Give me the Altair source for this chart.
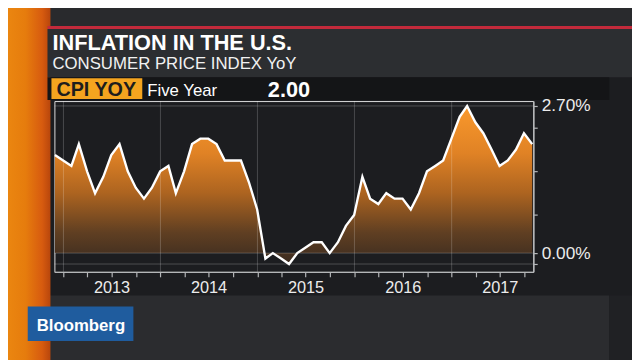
import altair as alt
import pandas as pd

# ---------------- data ----------------
first_month = "2012-11-01"
cpi_yoy = [
    1.8, 1.7,                                                      # 2012 Nov-Dec
    1.6, 2.0, 1.5, 1.1, 1.4, 1.8, 2.0, 1.5, 1.2, 1.0, 1.2, 1.5,    # 2013
    1.6, 1.1, 1.5, 2.0, 2.1, 2.1, 2.0, 1.7, 1.7, 1.7, 1.3, 0.8,    # 2014
    -0.1, 0.0, -0.1, -0.2, 0.0, 0.1, 0.2, 0.2, 0.0, 0.2, 0.5, 0.7, # 2015
    1.4, 1.0, 0.9, 1.1, 1.0, 1.0, 0.8, 1.1, 1.5, 1.6, 1.7, 2.1,    # 2016
    2.5, 2.7, 2.4, 2.2, 1.9, 1.6, 1.7, 1.9, 2.2, 2.0,              # 2017 Jan-Oct
]
year_starts = ["2013-01-01", "2014-01-01", "2015-01-01", "2016-01-01", "2017-01-01"]
h_grid = [2.7, 0.0, -0.2]
right_ticks = [2.7, 2.3, 1.5, 0.7, 0.0, -0.2]
tick_years = [2013, 2014, 2015, 2016, 2017]
tick_months = [1, 4, 7, 10]

title_text = "INFLATION IN THE U.S."
subtitle_text = "CONSUMER PRICE INDEX YoY"
ticker_text = "CPI YOY"
period_text = "Five Year"
last_value_text = "2.00"
brand_text = "Bloomberg"

# ---------------- tables ----------------
months = pd.date_range(first_month, periods=len(cpi_yoy), freq="MS")
dates = (months + pd.offsets.MonthEnd(0)).strftime("%Y-%m-%d")
df = pd.DataFrame({"date": list(dates), "cpi": cpi_yoy})
df_years = pd.DataFrame({"date": year_starts})
df_h = pd.DataFrame({"cpi": h_grid})
dummy = pd.DataFrame({"k": [0]})

FONT = "Liberation Sans"
W, H = 485, 173

quarter_ticks = [alt.DateTime(year=y, month=m, date=1, utc=True)
                 for y in tick_years for m in tick_months]

x_scale = alt.Scale(type="utc",
                    domain=[alt.DateTime(year=2012, month=11, date=28, utc=True),
                            alt.DateTime(year=2017, month=11, date=4, utc=True)],
                    nice=False)
y_scale = alt.Scale(domain=[-0.344, 2.79], nice=False, zero=False)

x_axis = alt.Axis(values=quarter_ticks,
                  labelExpr="utcmonth(datum.value) == 6 ? '' + utcyear(datum.value) : ''",
                  tickSize=5, tickColor="#b4b6b8", tickWidth=1.2,
                  domainColor="#b4b6b8", domainWidth=1.5,
                  labelColor="#ececec", labelFontSize=16.5, labelFont=FONT,
                  labelPadding=3, labelOverlap=False, labelFlush=False,
                  grid=False, title=None, zindex=1)
y_axis = alt.Axis(orient="right", values=right_ticks,
                  labelExpr="datum.value == 2.7 ? '2.70%' : (datum.value == 0 ? '0.00%' : '')",
                  tickSize=4, tickColor="#b4b6b8", tickWidth=1.2,
                  domainColor="#b4b6b8", domainWidth=1.5,
                  labelColor="#ececec", labelFontSize=17.5, labelFont=FONT,
                  labelPadding=4, labelOverlap=False, labelFlush=False,
                  labelBaseline="middle",
                  grid=False, title=None, zindex=1)

X = alt.X("date:T", scale=x_scale, axis=x_axis)
Y = alt.Y("cpi:Q", scale=y_scale, axis=y_axis)


def box(x, x2, y, y2, color):
    return alt.Chart(dummy).mark_rect(color=color).encode(
        x=alt.value(x), x2=alt.value(x2), y=alt.value(y), y2=alt.value(y2))


def label(text, x, y, size, color="#ffffff", weight="normal", align="left"):
    return alt.Chart(dummy).mark_text(
        text=text, align=align, baseline="alphabetic", font=FONT,
        fontSize=size, fontWeight=weight, color=color).encode(
        x=alt.value(x), y=alt.value(y))


orange_grad = alt.Gradient(
    gradient="linear", x1=0, y1=0, x2=1, y2=0,
    stops=[alt.GradientStop(color="#ee8d12", offset=0),
           alt.GradientStop(color="#e67c0d", offset=0.55),
           alt.GradientStop(color="#d75b0f", offset=0.85),
           alt.GradientStop(color="#b8460c", offset=1)])

area_grad = alt.Gradient(
    gradient="linear", x1=1, y1=0, x2=1, y2=1,
    stops=[alt.GradientStop(color="#fa992c", offset=0),
           alt.GradientStop(color="#e08225", offset=0.3),
           alt.GradientStop(color="#ad6420", offset=0.55),
           alt.GradientStop(color="#603f22", offset=0.8),
           alt.GradientStop(color="#3a2b20", offset=1)])

# decorations (coordinates relative to plot origin at page (55,100))
top_band = box(-60, 600, -110, -75, "#292a2d")
bottom_band = box(-60, 562, 197, 270, "#2b2c2f")
bottom_right = box(562, 600, 197, 270, "#202124")
strip = box(-60, -4, -110, 270, orange_grad)
red_line = box(-7, 600, -76, -73, "#c32a3b")
header = box(-7, 600, -73, -24, "#2c2e31")
cpi_row = box(-7, 562, -24, -1, "#141517")
ticker_box = box(-3, 89, -23, -2, "#f4a41f")
brand_box = box(-27, 80, 208, 243, "#1f5c9e")

t_title = label(title_text, -2, -52, 22, weight="bold")
t_sub = label(subtitle_text, -2, -32, 17, color="#f2f2f2")
t_ticker = label(ticker_text, 2, -5, 20, color="#1d1d1d", weight="bold")
t_period = label(period_text, 94, -5.5, 17)
t_value = label(last_value_text, 259, -4, 22, weight="bold", align="right")
t_brand = label(brand_text, -18, 233, 17, weight="bold")

# data layers
area = alt.Chart(df).mark_area(color=area_grad).encode(x=X, y=Y, y2=alt.value(H))
vgrid = alt.Chart(df_years).mark_rule(color="#ffffff", opacity=0.2, strokeWidth=1).encode(x=X)
hgrid = alt.Chart(df_h).mark_rule(color="#ffffff", opacity=0.22, strokeWidth=1).encode(y=Y)
line = alt.Chart(df).mark_line(color="#ffffff", strokeWidth=2.4).encode(x=X, y=Y)

chart = alt.layer(
    top_band, bottom_band, bottom_right, strip, red_line, header, cpi_row,
    ticker_box, brand_box,
    t_title, t_sub, t_ticker, t_period, t_value, t_brand,
    area, vgrid, hgrid, line,
).properties(
    width=W, height=H,
    padding={"left": 47, "top": 92, "right": 100, "bottom": 87},
    autosize=alt.AutoSizeParams(type="none"),
    background="#1c1d20",
).configure_view(
    stroke="#a5a7aa", strokeWidth=1.5, fill="#1f2124"
).configure(font=FONT)

chart.save("out.html", embed_options={"renderer": "svg", "actions": False})
